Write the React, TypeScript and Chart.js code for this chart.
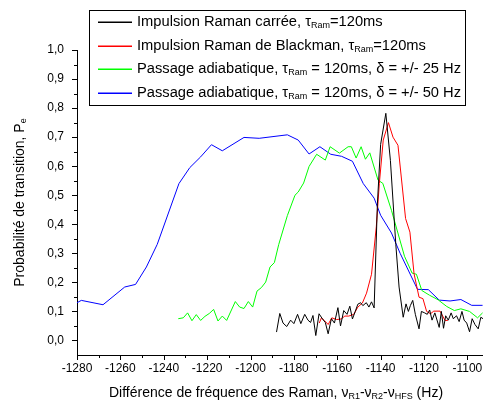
import React, { useEffect, useRef } from 'react';
import { Chart, registerables } from 'chart.js';

Chart.register(...registerables);

const FONT = '"Liberation Sans", Arial, Helvetica, sans-serif';

// Axis ranges
const xMin = -1280;
const xMax = -1092.8;
const yMin = -0.05;
const yMax = 1.0;
const xStep = 20;
const yStep = 0.1;

// Impulsion Raman carrée (black)
const carreeX = [
  -1188, -1186.5, -1185, -1183.3, -1181.5, -1180, -1178.3, -1176.8, -1175, -1173.5,
  -1172.3, -1171.2, -1169.9, -1168.4, -1166.8, -1165.5, -1164.2, -1162.7, -1161.3, -1159.7,
  -1158.5, -1157, -1155.5, -1154.2, -1153, -1151.7, -1150.5, -1149.2, -1148.2, -1146.6,
  -1145.4, -1144.2, -1143, -1141.5, -1140, -1137.6, -1135.5, -1133, -1131.5, -1129.6,
  -1128.3, -1127.2, -1126.3, -1125.2, -1124, -1122.3, -1121.2, -1119.7, -1118.5, -1117.4,
  -1116.3, -1115, -1113, -1112, -1111, -1110, -1108.8, -1107.5, -1106.5, -1105,
  -1103.8, -1102.5, -1101.5, -1100.3, -1099, -1097.8, -1096.5, -1095, -1093.8, -1092.8,
];
const carreeY = [
  0.029, 0.093, 0.06, 0.048, 0.07, 0.058, 0.09, 0.058, 0.09, 0.07,
  0.062, 0.086, 0.017, 0.092, 0.074, 0.062, 0.023, 0.075, 0.06, 0.113,
  0.05, 0.103, 0.09, 0.118, 0.074, 0.1, 0.125, 0.13, 0.12, 0.13,
  0.115, 0.133, 0.112, 0.47, 0.675, 0.782, 0.62, 0.33, 0.184, 0.08,
  0.126, 0.1, 0.12, 0.138, 0.09, 0.04, 0.1, 0.095, 0.09, 0.105,
  0.07, 0.095, 0.045, 0.1, 0.042, 0.085, 0.07, 0.095, 0.075, 0.085,
  0.065, 0.1, 0.07, 0.06, 0.03, 0.075, 0.055, 0.04, 0.08, 0.075,
];

// Impulsion Raman de Blackman (red)
const blackmanX = [
  -1168.3, -1167.3, -1166, -1164.2, -1162.5, -1160.3, -1158.2, -1156.5, -1154.7, -1152.4,
  -1150.5, -1148.4, -1146.5, -1144.2, -1142, -1140.6, -1138.8, -1136.4, -1134.3, -1132,
  -1128.5, -1126.5, -1124.6, -1122.3, -1120.5, -1118.8, -1117, -1115.5, -1112.6, -1110.3,
  -1109,
];
const blackmanY = [
  0.06, 0.078, 0.069, 0.055, 0.078, 0.072, 0.074, 0.084, 0.084, 0.09,
  0.115, 0.129, 0.163, 0.228, 0.391, 0.54, 0.69, 0.75, 0.7, 0.672,
  0.42, 0.373, 0.23, 0.149, 0.144, 0.1, 0.092, 0.101, 0.101, 0.069,
  0.069,
];

// Passage adiabatique, +/- 25 Hz (green)
const adiab25X = [
  -1233.3, -1231, -1229, -1227, -1225, -1223, -1221, -1219, -1217, -1215,
  -1213, -1211, -1207, -1205, -1203, -1201, -1199, -1197, -1195, -1193,
  -1191, -1189, -1187, -1183, -1179.5, -1178, -1175.5, -1173, -1169.5, -1165.5,
  -1163.3, -1159, -1155, -1153.5, -1151.3, -1149, -1147, -1145, -1141.2, -1139,
  -1135, -1129, -1125.5, -1123.5, -1121, -1117.5, -1113.5, -1109.5, -1106, -1103,
  -1099, -1095.3, -1093,
];
const adiab25Y = [
  0.075, 0.078, 0.095, 0.068, 0.089, 0.069, 0.083, 0.093, 0.107, 0.067,
  0.084, 0.069, 0.134, 0.115, 0.11, 0.134, 0.115, 0.17, 0.182, 0.201,
  0.253, 0.268, 0.33, 0.43, 0.5, 0.511, 0.542, 0.599, 0.641, 0.621,
  0.667, 0.645, 0.667, 0.667, 0.628, 0.667, 0.624, 0.646, 0.552, 0.541,
  0.448, 0.29, 0.232, 0.228, 0.172, 0.156, 0.14, 0.117, 0.103, 0.109,
  0.1, 0.078, 0.095,
];

// Passage adiabatique, +/- 50 Hz (blue)
const adiab50X = [
  -1280, -1278, -1268, -1258, -1253, -1248, -1243, -1233, -1228, -1223,
  -1218, -1213, -1203, -1196, -1183, -1178, -1173, -1168, -1163, -1158,
  -1153, -1148, -1143, -1140, -1135, -1131, -1123, -1118, -1113, -1108,
  -1103, -1098, -1093,
];
const adiab50Y = [
  0.13, 0.138, 0.123, 0.184, 0.193, 0.253, 0.331, 0.54, 0.595, 0.632,
  0.674, 0.653, 0.699, 0.696, 0.708, 0.69, 0.642, 0.667, 0.641, 0.634,
  0.617, 0.54, 0.49, 0.431, 0.37, 0.3, 0.176, 0.175, 0.139, 0.136,
  0.141, 0.121, 0.121,
];

const seriesColors = ['#000000', '#ff0000', '#00ff00', '#0000ff'];

type Seg = { t: string; sub?: boolean };

const legendLabels: Seg[][] = [
  [{ t: 'Impulsion Raman carrée, τ' }, { t: 'Ram', sub: true }, { t: '=120ms' }],
  [{ t: 'Impulsion Raman de Blackman, τ' }, { t: 'Ram', sub: true }, { t: '=120ms' }],
  [{ t: 'Passage adiabatique, τ' }, { t: 'Ram', sub: true }, { t: ' = 120ms, δ = +/- 25 Hz' }],
  [{ t: 'Passage adiabatique, τ' }, { t: 'Ram', sub: true }, { t: ' = 120ms, δ = +/- 50 Hz' }],
];

const xTitle: Seg[] = [
  { t: 'Différence de fréquence des Raman, ν' },
  { t: 'R1', sub: true },
  { t: '-ν' },
  { t: 'R2', sub: true },
  { t: '-ν' },
  { t: 'HFS', sub: true },
  { t: ' (Hz)' },
];
const yTitle: Seg[] = [{ t: 'Probabilité de transition, P' }, { t: 'e', sub: true }];

function segsWidth(ctx: CanvasRenderingContext2D, segs: Seg[], size: number, subSize: number) {
  let w = 0;
  for (const s of segs) {
    ctx.font = `${s.sub ? subSize : size}px ${FONT}`;
    w += ctx.measureText(s.t).width;
  }
  return w;
}

function drawSegs(
  ctx: CanvasRenderingContext2D,
  segs: Seg[],
  x: number,
  y: number,
  size: number,
  subSize: number,
  subDy: number
) {
  let cx = x;
  ctx.textBaseline = 'middle';
  ctx.textAlign = 'left';
  for (const s of segs) {
    ctx.font = `${s.sub ? subSize : size}px ${FONT}`;
    ctx.fillText(s.t, cx, s.sub ? y + subDy : y);
    cx += ctx.measureText(s.t).width;
  }
}

const decorPlugin = {
  id: 'decor',
  afterDraw(chart: any) {
    const ctx: CanvasRenderingContext2D = chart.ctx;
    const xs = chart.scales.x;
    const ys = chart.scales.y;
    const area = chart.chartArea;
    ctx.save();
    ctx.strokeStyle = '#000';
    ctx.fillStyle = '#000';
    ctx.lineWidth = 1;

    // x ticks (major + minor)
    const xt = xs.ticks.map((t: any) => t.value);
    ctx.beginPath();
    for (const v of xt) {
      const px = Math.round(xs.getPixelForValue(v)) + 0.5;
      ctx.moveTo(px, area.bottom);
      ctx.lineTo(px, area.bottom + 5);
      const mv = v + xStep / 2;
      if (mv <= xMax) {
        const mpx = Math.round(xs.getPixelForValue(mv)) + 0.5;
        ctx.moveTo(mpx, area.bottom);
        ctx.lineTo(mpx, area.bottom + 3);
      }
    }
    // y ticks
    const yt = ys.ticks.map((t: any) => t.value);
    for (const v of yt) {
      const py = Math.round(ys.getPixelForValue(v)) + 0.5;
      ctx.moveTo(area.left, py);
      ctx.lineTo(area.left - 5, py);
      const mv = v + yStep / 2;
      if (mv < yMax) {
        const mpy = Math.round(ys.getPixelForValue(mv)) + 0.5;
        ctx.moveTo(area.left, mpy);
        ctx.lineTo(area.left - 3, mpy);
      }
    }
    ctx.stroke();

    // x title
    const xw = segsWidth(ctx, xTitle, 14, 9);
    drawSegs(ctx, xTitle, 276 - xw / 2, 393, 14, 9, 4);

    // y title (rotated)
    ctx.save();
    ctx.translate(20, (area.top + area.bottom) / 2);
    ctx.rotate(-Math.PI / 2);
    const yw = segsWidth(ctx, yTitle, 14, 9);
    drawSegs(ctx, yTitle, -yw / 2, 0, 14, 9, 4);
    ctx.restore();

    // legend box
    const bx = 89, by = 10, bw = 376, bh = 95;
    ctx.fillStyle = '#fff';
    ctx.fillRect(bx, by, bw, bh);
    ctx.strokeStyle = '#000';
    ctx.lineWidth = 1;
    ctx.strokeRect(bx + 0.5, by + 0.5, bw, bh);
    const rowY = [22, 45.5, 69, 92.5];
    for (let i = 0; i < legendLabels.length; i++) {
      ctx.beginPath();
      ctx.strokeStyle = seriesColors[i];
      ctx.lineWidth = 1.3;
      ctx.moveTo(98, Math.round(rowY[i]) + 0.25);
      ctx.lineTo(132, Math.round(rowY[i]) + 0.25);
      ctx.stroke();
      ctx.fillStyle = '#000';
      drawSegs(ctx, legendLabels[i], 137, rowY[i], 14.7, 9, 4);
    }
    ctx.restore();
  },
};

function toPoints(xs: number[], ys: number[]) {
  return xs.map((x, i) => ({ x, y: ys[i] }));
}

export default function App() {
  const ref = useRef<HTMLCanvasElement | null>(null);

  useEffect(() => {
    if (!ref.current) return;
    const mk = (label: string, xs: number[], ys: number[], color: string) => ({
      label,
      data: toPoints(xs, ys),
      borderColor: color,
      backgroundColor: color,
      borderWidth: 1,
      pointRadius: 0,
      showLine: true,
      tension: 0,
    });
    const chart = new Chart(ref.current, {
      type: 'scatter',
      data: {
        datasets: [
          mk('Impulsion Raman carrée', carreeX, carreeY, seriesColors[0]),
          mk('Impulsion Raman de Blackman', blackmanX, blackmanY, seriesColors[1]),
          mk('Passage adiabatique 25 Hz', adiab25X, adiab25Y, seriesColors[2]),
          mk('Passage adiabatique 50 Hz', adiab50X, adiab50Y, seriesColors[3]),
        ],
      },
      options: {
        animation: false,
        responsive: false,
        devicePixelRatio: 1,
        layout: { padding: { top: 50, right: 0, bottom: 0, left: 0 } },
        plugins: { legend: { display: false }, tooltip: { enabled: false } },
        scales: {
          x: {
            type: 'linear',
            min: xMin,
            max: xMax,
            grid: { display: false, drawTicks: true, tickLength: 5 },
            border: { display: true, color: '#000', width: 1 },
            ticks: {
              stepSize: xStep,
              includeBounds: false,
              autoSkip: false,
              maxRotation: 0,
              padding: 1,
              color: '#000',
              font: { family: FONT, size: 12 },
              callback: (v: any) => String(Math.round(Number(v))),
            },
            afterFit: (s: any) => {
              s.height = 50;
              s.paddingLeft = 0;
              s.paddingRight = 0;
            },
          },
          y: {
            type: 'linear',
            min: yMin,
            max: yMax,
            grid: { display: false, drawTicks: true, tickLength: 5 },
            border: { display: true, color: '#000', width: 1 },
            ticks: {
              stepSize: yStep,
              includeBounds: false,
              autoSkip: false,
              padding: 8,
              color: '#000',
              font: { family: FONT, size: 12 },
              callback: (v: any) => Number(v).toFixed(1).replace('.', ','),
            },
            afterFit: (s: any) => {
              s.width = 77;
              s.paddingTop = 0;
              s.paddingBottom = 0;
            },
          },
        },
      },
      plugins: [decorPlugin],
    } as any);
    return () => chart.destroy();
  }, []);

  return (
    <div style={{ position: 'fixed', left: 0, top: 0, width: 483, height: 405, background: '#fff' }}>
      <canvas ref={ref} width={483} height={405} style={{ display: 'block', width: 483, height: 405 }} />
    </div>
  );
}
